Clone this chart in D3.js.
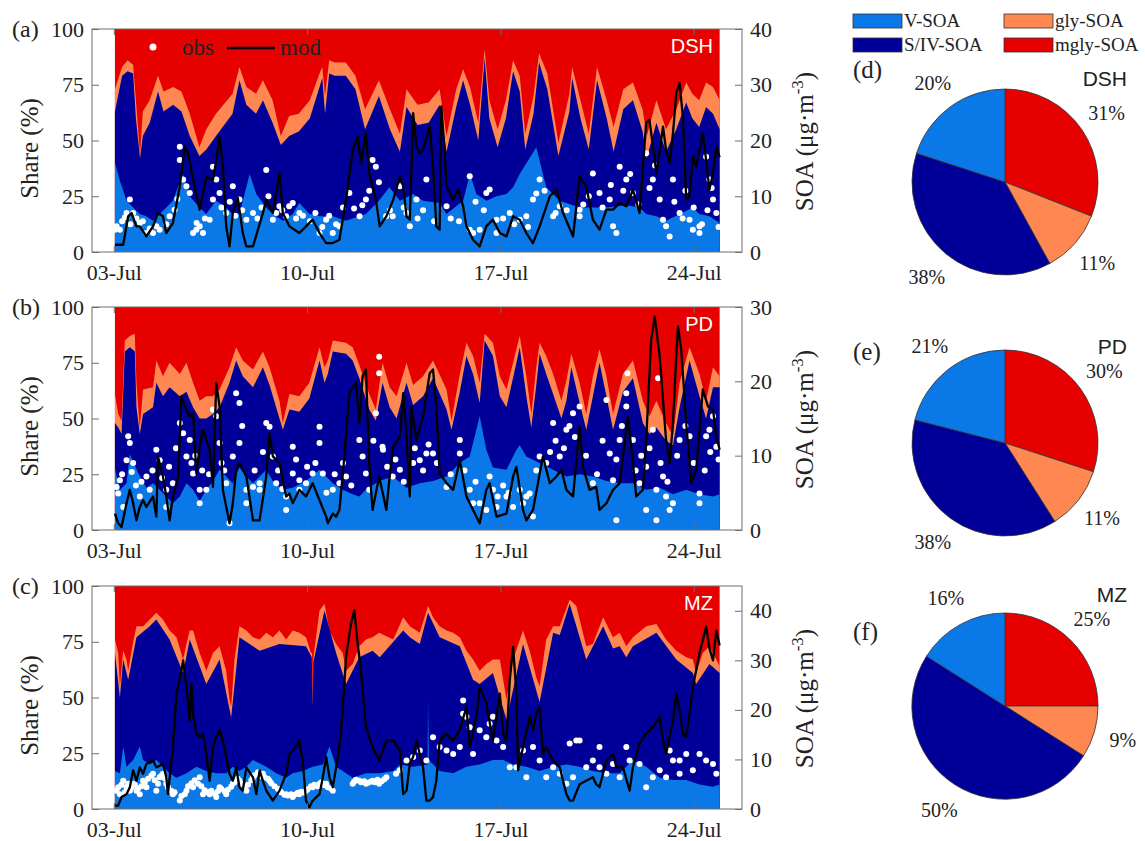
<!DOCTYPE html>
<html>
<head>
<meta charset="utf-8">
<script src="https://cdn.jsdelivr.net/npm/d3@7"></script>
<style>
  body { margin: 0; background: #fff; }
  text { font-family: "Liberation Serif", "Times New Roman", serif; fill: #222; }
</style>
</head>
<body>
<svg id="chart" width="1145" height="841"></svg>
<script>
// categories / colours
const layerNames = ["V-SOA", "S/IV-SOA", "gly-SOA", "mgly-SOA"];
const layerColors = ["#0a78e6", "#000099", "#ff8752", "#e60000"];
const stationNames = ["DSH", "PD", "MZ"];
const dateTicks = [3, 10, 17, 24];   // July days with a tick label

// time is in days after 03-Jul 00:00, shares are cumulative (%) from the bottom
// ---- DSH ----
const dshTopV = [[0.04,40],[0.22,32],[0.46,23],[0.7,20],[0.94,17],[1.18,16],[1.42,14],[1.66,17],[1.9,20],[2.14,23],[2.5,35],[2.75,25],[3.1,20],[3.35,17],[3.7,23],[4.07,20],[4.3,17],[4.55,17],[4.92,35],[5.16,26],[5.52,20],[5.76,17],[6.12,14],[6.48,17],[6.72,22],[7.08,17],[7.45,16],[7.93,16],[8.4,14],[8.9,16],[9.13,17],[9.6,23],[9.98,29],[10.36,23],[10.84,26],[11.2,23],[11.8,22],[12.05,17],[12.65,23],[12.9,35],[13.13,26],[13.5,23],[13.86,25],[14.22,26],[14.46,29],[14.7,35],[15.3,47],[15.66,29],[16.15,23],[16.87,20],[17.35,20],[17.84,20],[18.56,21],[19.04,20],[19.28,17],[19.65,16],[20.0,14],[20.5,17],[20.97,20],[21.2,17],[21.57,16],[21.94,13]];
const dshTopSIV = [[0.04,63],[0.3,79],[0.5,81],[0.7,80],[0.8,60],[0.95,42],[1.05,52],[1.3,58],[1.6,72],[1.8,63],[2.15,66],[2.45,63],[2.75,52],[3.1,43],[3.35,46],[3.7,52],[4.3,62],[4.55,77],[4.8,66],[5.15,62],[5.4,68],[5.75,58],[6.05,48],[6.35,52],[6.7,54],[7.1,60],[7.45,74],[7.55,78],[7.65,62],[7.8,80],[8.0,79],[8.4,79],[8.75,73],[9.1,55],[9.6,70],[10.0,55],[10.36,45],[10.6,65],[11.0,57],[11.4,58],[11.8,66],[12.05,45],[12.4,65],[12.65,77],[12.9,66],[13.2,50],[13.43,87],[13.6,60],[13.9,47],[14.2,60],[14.46,81],[14.7,72],[14.9,46],[15.2,62],[15.4,85],[15.7,73],[16.1,43],[16.5,63],[16.6,78],[16.9,60],[17.2,46],[17.5,77],[17.85,60],[18.1,45],[18.45,64],[18.8,68],[19.15,54],[19.3,42],[19.65,58],[20.0,45],[20.37,55],[20.73,67],[20.95,60],[21.2,56],[21.45,65],[21.7,62],[21.94,55]];
const dshTopGly = [[0.04,73],[0.3,83],[0.5,86],[0.7,84],[0.8,68],[0.95,44],[1.05,63],[1.3,68],[1.6,79],[1.8,72],[2.15,74],[2.45,72],[2.75,62],[3.1,47],[3.35,55],[3.7,62],[4.3,71],[4.55,83],[4.8,74],[5.15,71],[5.4,77],[5.75,68],[6.05,52],[6.35,61],[6.7,62],[7.1,68],[7.45,80],[7.55,83],[7.65,70],[7.8,86],[8.0,85],[8.4,85],[8.75,79],[9.1,64],[9.6,77],[10.0,64],[10.36,53],[10.6,73],[11.0,66],[11.4,67],[11.8,73],[12.05,52],[12.4,73],[12.65,82],[12.9,74],[13.2,58],[13.43,91],[13.6,68],[13.9,55],[14.2,68],[14.46,86],[14.7,79],[14.9,53],[15.2,70],[15.4,89],[15.7,80],[16.1,49],[16.5,71],[16.6,83],[16.9,68],[17.2,53],[17.5,83],[17.85,68],[18.1,56],[18.45,73],[18.8,76],[19.15,64],[19.3,52],[19.65,68],[20.0,55],[20.37,64],[20.73,76],[20.95,71],[21.2,68],[21.45,76],[21.7,74],[21.94,68]];
const dshMod = [[0.04,1.3],[0.34,1.3],[0.52,6.4],[0.64,7],[0.82,4.6],[0.94,4.6],[1.18,2.8],[1.42,4.6],[1.6,7],[1.78,6.4],[1.9,3.4],[2.14,5.2],[2.39,11.8],[2.57,18.9],[2.69,17.7],[2.87,13],[3.11,7.6],[3.35,13.5],[3.59,12.9],[3.71,16.5],[3.83,20.7],[3.95,15.3],[4.07,4.6],[4.19,1],[4.31,7],[4.49,9.7],[4.67,3.4],[4.8,1],[5.04,1],[5.4,7],[5.52,9.4],[5.64,8.2],[5.76,7],[6.0,14.1],[6.12,7],[6.36,4.6],[6.72,3.4],[6.96,4.6],[7.2,5.8],[7.45,3.4],[7.69,1.6],[7.93,1.6],[8.17,2.2],[8.41,9.4],[8.65,18.3],[8.83,20.7],[8.95,16],[9.13,21.3],[9.25,14.1],[9.49,9.4],[9.63,4.6],[9.87,6.4],[10.12,9.4],[10.36,13.5],[10.48,11.8],[10.6,6.4],[10.72,5.8],[10.84,24.9],[10.96,18.9],[11.08,17.7],[11.2,18.3],[11.44,22.5],[11.56,15.3],[11.68,4.6],[11.8,4],[11.86,26.1],[11.98,18.3],[12.05,11.8],[12.29,9.4],[12.47,11.2],[12.65,8.2],[12.77,4.6],[13.01,2.2],[13.25,1],[13.49,4.6],[13.73,5.8],[13.98,3.4],[14.22,2.8],[14.46,6.4],[14.7,5.8],[14.94,3.4],[15.18,1.6],[15.42,4.6],[15.79,10],[16.03,11.2],[16.27,7],[16.63,2.8],[16.87,13.5],[17.11,11.8],[17.35,5.8],[17.59,4],[17.84,7.6],[18.08,7.6],[18.32,8.8],[18.56,8.2],[18.8,11.2],[19.04,7],[19.28,23.2],[19.4,23.7],[19.65,14.1],[19.89,22.5],[20.0,18.3],[20.13,16],[20.25,21.3],[20.37,28.5],[20.49,30.3],[20.61,24.2],[20.73,9.4],[20.85,10],[20.97,17.2],[21.09,15.3],[21.33,21.3],[21.45,16.5],[21.57,11.2],[21.7,14.1],[21.82,18.9],[21.94,17]];
const dshObs = [[0.04,4],[0.1,4.6],[0.22,4],[0.3,5.5],[0.4,6.2],[0.46,7],[0.58,9.4],[0.6,5],[0.7,7],[0.82,6],[0.94,5.2],[1.05,5.5],[1.18,3.4],[1.3,4.2],[1.42,3.4],[1.54,4.6],[1.66,4],[1.9,5],[2.02,6.4],[2.2,7.6],[2.3,9.5],[2.39,18.9],[2.39,16.5],[2.51,13],[2.63,11.8],[2.75,10.6],[2.87,3.4],[2.99,4],[3.0,5.2],[3.11,4.6],[3.23,3.4],[3.3,6],[3.47,5.8],[3.59,15.3],[3.59,9.4],[3.71,13],[3.83,10.6],[3.9,8],[4.07,7],[4.2,9],[4.31,11.8],[4.4,6.5],[4.55,9.4],[4.65,7.5],[4.8,5.8],[5.04,7],[5.2,6],[5.35,8],[5.52,14.7],[5.6,10],[5.76,5.8],[5.88,7],[6.0,8.2],[6.1,7.5],[6.24,6.4],[6.35,8.2],[6.48,8.8],[6.6,6],[6.72,7],[6.85,6.5],[7.1,5.5],[7.3,7],[7.45,3.4],[7.55,4.5],[7.69,5.8],[7.8,6.5],[7.93,3.4],[8.05,5],[8.17,4.6],[8.3,8],[8.53,10.6],[8.7,7.8],[8.9,6.4],[9.0,8.4],[9.13,9.4],[9.25,11],[9.37,16.5],[9.49,15.3],[9.6,12.5],[9.86,6.4],[10.0,7.5],[10.1,6.4],[10.36,11.8],[10.5,8],[10.6,7],[10.72,4.6],[10.96,9.4],[11.0,6],[11.2,7.5],[11.32,13],[11.6,5.5],[12.05,8.2],[12.2,6],[12.5,5.5],[12.89,13.6],[12.89,4],[13.01,3.4],[13.1,9],[13.25,4],[13.4,7.5],[13.49,10.6],[13.61,11.2],[13.86,5.8],[13.86,3.4],[14.1,6],[14.34,7],[14.5,5],[14.7,5.8],[14.94,6.4],[15.0,4.5],[15.18,9.4],[15.3,10.5],[15.42,13],[15.6,11],[15.91,6.4],[16.0,7],[16.15,8.2],[16.4,7.5],[16.87,7.6],[16.87,6.4],[17.0,8.5],[17.2,10],[17.35,14.1],[17.59,10.6],[17.7,8],[17.96,9.4],[18.0,12],[18.08,4.6],[18.2,3.4],[18.32,15.3],[18.45,11],[18.56,13],[18.7,14],[18.8,10.6],[19.0,8.5],[19.28,17.7],[19.4,11.5],[19.52,13],[19.6,15.5],[19.77,9.4],[19.89,5.8],[20.0,4.6],[20.13,2.8],[20.25,13],[20.3,9],[20.49,7],[20.6,6],[20.7,11],[20.85,5.8],[20.97,4],[21.0,8],[21.21,4.6],[21.21,3.4],[21.3,5],[21.45,17.1],[21.5,7.5],[21.57,13],[21.65,11.5],[21.7,9.4],[21.82,7],[21.9,4.5]];

// ---- PD ----
const pdTopV = [[0.04,28],[0.1,24],[0.22,18],[0.46,21],[0.58,34],[0.94,24],[1.18,19],[1.42,21],[1.66,18],[1.9,15],[2.14,12],[2.39,15],[2.63,21],[2.87,18],[3.11,13],[3.35,18],[3.59,22],[3.83,27],[4.07,24],[4.31,21],[4.55,28],[4.8,24],[5.04,21],[5.28,24],[5.52,27],[5.76,22],[6.12,18],[6.48,19],[6.96,22],[7.45,27],[7.69,24],[7.93,21],[8.29,18],[8.65,16],[8.89,15],[9.13,18],[9.61,22],[10.1,24],[10.6,19],[11.08,21],[11.56,22],[12.05,24],[12.53,30],[12.89,33],[13.25,51],[13.49,36],[13.73,28],[14.22,27],[14.58,36],[14.7,38],[14.94,33],[15.42,30],[15.91,27],[16.39,24],[16.87,25],[17.35,24],[17.84,22],[18.32,21],[18.8,21],[19.28,18],[19.77,19],[20.25,16],[20.73,18],[21.21,16],[21.7,15],[21.94,16]];
const pdTopSIV = [[0.04,48],[0.16,46],[0.28,43],[0.4,80],[0.58,82],[0.76,80],[0.82,55],[0.94,43],[1.06,52],[1.42,55],[1.54,66],[1.78,60],[2.02,64],[2.39,60],[2.63,62],[2.87,55],[3.11,50],[3.35,50],[3.59,52],[3.83,55],[4.19,66],[4.43,76],[4.67,69],[5.04,64],[5.4,73],[5.64,65],[6.0,50],[6.12,45],[6.36,54],[6.72,53],[7.08,59],[7.45,76],[7.63,66],[7.75,70],[7.93,80],[8.41,79],[8.65,76],[8.89,68],[9.25,54],[9.49,49],[9.73,66],[9.99,55],[10.24,50],[10.6,66],[10.84,56],[11.2,60],[11.56,68],[12.05,54],[12.23,45],[12.53,62],[12.77,78],[13.01,70],[13.25,57],[13.43,85],[13.73,78],[13.98,60],[14.22,55],[14.58,75],[14.7,82],[14.94,60],[15.12,46],[15.3,65],[15.42,79],[15.66,70],[15.91,61],[16.21,50],[16.39,58],[16.57,73],[16.87,57],[17.11,45],[17.35,60],[17.59,75],[17.84,60],[18.08,45],[18.44,62],[18.8,68],[19.16,48],[19.4,43],[19.65,46],[20.0,40],[20.25,38],[20.49,55],[20.85,76],[21.21,60],[21.45,50],[21.7,64],[21.94,64]];
const pdTopGly = [[0.04,61],[0.16,52],[0.28,49],[0.4,85],[0.58,87],[0.76,88],[0.82,66],[0.94,46],[1.06,63],[1.42,64],[1.54,76],[1.78,69],[2.02,75],[2.39,70],[2.63,75],[2.87,66],[3.11,58],[3.35,60],[3.59,60],[3.83,63],[4.19,73],[4.43,82],[4.67,76],[5.04,72],[5.4,80],[5.64,73],[6.0,58],[6.12,48],[6.36,61],[6.72,60],[7.08,66],[7.45,82],[7.63,73],[7.75,76],[7.93,85],[8.41,84],[8.65,82],[8.89,74],[9.25,61],[9.49,54],[9.73,75],[9.99,64],[10.24,60],[10.6,75],[10.84,65],[11.2,69],[11.56,76],[12.05,63],[12.23,49],[12.53,70],[12.77,84],[13.01,78],[13.25,66],[13.43,88],[13.73,84],[13.98,69],[14.22,63],[14.58,81],[14.7,87],[14.94,69],[15.12,52],[15.3,73],[15.42,84],[15.66,78],[15.91,70],[16.21,58],[16.39,67],[16.57,79],[16.87,66],[17.11,52],[17.35,69],[17.59,81],[17.84,69],[18.08,52],[18.44,70],[18.8,76],[19.16,58],[19.4,51],[19.65,58],[20.0,48],[20.25,42],[20.49,66],[20.85,82],[21.21,70],[21.45,58],[21.7,73],[21.94,69]];
const pdMod = [[0.04,2.2],[0.16,0.9],[0.28,0.4],[0.46,3.6],[0.58,5.4],[0.7,3.6],[0.82,1.3],[0.94,3.1],[1.06,4],[1.18,3.1],[1.42,4.5],[1.54,1.8],[1.6,9.9],[1.78,7.2],[1.9,4.5],[2.02,1.3],[2.14,4.5],[2.33,7.2],[2.45,18],[2.63,16.2],[2.75,15.3],[2.87,15.7],[2.99,7.6],[3.11,11.2],[3.23,13.5],[3.35,12.1],[3.47,10.8],[3.59,5.8],[3.71,19.8],[3.83,16.6],[3.95,5.4],[4.19,0.9],[4.31,3.6],[4.43,8.1],[4.55,9],[4.8,7.2],[5.04,1.3],[5.28,1.3],[5.52,7.2],[5.64,13],[5.76,9.9],[6.0,9],[6.24,4.5],[6.36,4.9],[6.48,3.6],[6.72,5.4],[6.96,4.5],[7.2,6.3],[7.45,4],[7.69,1.8],[7.75,0.9],[7.93,2.2],[8.05,1.8],[8.17,2.7],[8.35,9.9],[8.53,18.4],[8.77,19.8],[8.89,14.4],[9.01,20.7],[9.13,21.6],[9.25,9],[9.37,2.7],[9.61,7.2],[9.87,2.7],[9.99,7.2],[10.12,11.2],[10.36,12.6],[10.48,18.4],[10.6,12.6],[10.72,4.5],[10.78,16.6],[10.96,12.1],[11.2,15.3],[11.44,21.1],[11.56,21.6],[11.68,16.6],[11.8,7.6],[12.05,6.3],[12.29,5.4],[12.53,9.4],[12.77,4.5],[13.01,2.7],[13.25,0.9],[13.49,5.4],[13.61,6.3],[13.86,1.8],[14.22,2.2],[14.46,7.2],[14.58,8.5],[14.82,2.7],[14.94,1.3],[15.18,2.7],[15.54,9.9],[15.79,6.3],[16.03,7.2],[16.21,8.1],[16.39,5.4],[16.63,4.5],[16.87,13.9],[16.99,8.5],[17.23,5.4],[17.47,5.8],[17.59,2.7],[17.84,3.6],[18.08,5.4],[18.32,6.3],[18.62,15.3],[18.8,9],[18.92,4.5],[19.16,5.4],[19.28,12.1],[19.46,25.6],[19.59,28.7],[19.77,23.3],[19.89,17.5],[20.0,12.1],[20.13,9],[20.25,14.4],[20.37,23.3],[20.43,27.4],[20.55,24.2],[20.73,14.4],[20.91,6.3],[21.09,8.1],[21.33,18.9],[21.52,16.6],[21.7,16.2],[21.82,12.6],[21.94,10.8]];
const pdObs = [[0.1,5.8],[0.16,4.9],[0.22,6.7],[0.3,7.5],[0.34,3.1],[0.46,9.4],[0.52,12.6],[0.58,11.7],[0.65,7.8],[0.7,9],[0.8,6],[0.94,4.5],[1.0,6.5],[1.18,7.2],[1.3,5.4],[1.4,8],[1.54,10.8],[1.66,9.4],[1.75,7],[1.9,5.4],[1.9,3.1],[2.0,8.5],[2.14,6.3],[2.25,11],[2.39,14.4],[2.51,13],[2.63,9.9],[2.75,12.1],[2.81,9],[2.87,7.6],[2.95,10],[3.11,5.4],[3.11,3.6],[3.2,8],[3.35,5.4],[3.45,7.5],[3.59,16.2],[3.71,15.3],[3.83,11.7],[3.9,9],[4.0,8],[4.07,6.3],[4.19,0.9],[4.31,9.9],[4.43,18.4],[4.55,17.1],[4.55,11.7],[4.65,14],[4.8,5.4],[4.8,3.6],[5.04,5.8],[5.1,8],[5.28,6.3],[5.28,5.4],[5.4,10.5],[5.52,14.4],[5.64,13.9],[5.76,9.9],[5.88,6.3],[5.95,8],[6.1,5.5],[6.24,4.5],[6.24,2.7],[6.48,11.2],[6.48,7.6],[6.6,9.5],[6.72,6.7],[6.72,5.4],[6.96,6.3],[7.0,8.5],[7.2,7.6],[7.3,9],[7.45,13.9],[7.45,11.7],[7.57,7.6],[7.7,5],[7.93,5.4],[8.0,7.5],[8.17,6.3],[8.3,9],[8.41,7.2],[8.6,6],[8.89,12.1],[9.01,9.9],[9.13,7.6],[9.25,5.4],[9.4,12],[9.49,15.7],[9.61,23.3],[9.61,21.1],[9.73,11.2],[9.75,10.8],[9.9,8.5],[10.1,7.2],[10.2,9.5],[10.36,8.1],[10.5,6.5],[10.84,9],[10.9,11],[11.08,9.4],[11.2,8],[11.32,10.3],[11.4,11.5],[11.56,10.3],[11.7,9],[12.05,5.8],[12.2,7.5],[12.53,12.1],[12.53,10.3],[12.7,8],[12.89,5.4],[13.01,3.6],[13.1,6.5],[13.25,3.6],[13.49,2.7],[13.61,7.2],[13.73,5.4],[13.86,3.1],[13.9,4.5],[14.1,6],[14.22,4.5],[14.3,5],[14.46,3.1],[14.7,5.4],[14.82,3.6],[14.94,4.5],[15.06,4.9],[15.18,1.8],[15.3,8],[15.42,9.9],[15.66,9],[15.8,10.5],[15.91,14.4],[16.0,12],[16.15,9.9],[16.3,11],[16.39,13.5],[16.5,14],[16.63,15.7],[16.7,12.5],[16.87,16.6],[17.1,10],[17.35,6.3],[17.5,7.5],[17.7,12],[17.84,17.5],[17.96,10.3],[18.08,6.7],[18.2,1.3],[18.2,9.5],[18.32,12.1],[18.4,14],[18.56,18.4],[18.56,16.6],[18.6,21.1],[18.8,12.1],[18.9,8],[19.04,6.3],[19.1,10],[19.28,8.5],[19.28,2.7],[19.4,11],[19.52,13.5],[19.65,5.4],[19.65,1.3],[19.71,20.4],[19.8,9],[19.89,7.2],[20.0,4.5],[20.05,6.5],[20.13,2.7],[20.25,3.6],[20.4,10],[20.49,12.1],[20.7,14],[20.85,12.6],[21.0,9],[21.21,4.9],[21.21,3.6],[21.4,8],[21.45,12.6],[21.57,13.5],[21.6,10.5],[21.7,15.3],[21.82,11.2],[21.9,9.5]];

// ---- MZ ----
const mzTopV = [[0.04,17],[0.22,16],[0.34,28],[0.46,19],[0.7,22],[0.94,28],[1.06,22],[1.3,20],[1.54,22],[1.78,19],[2.02,16],[2.27,14],[2.63,16],[2.99,19],[3.35,17],[3.71,16],[4.07,16],[4.31,19],[4.55,17],[4.8,19],[5.04,22],[5.52,19],[5.88,16],[6.24,14],[6.48,16],[6.84,17],[7.2,19],[7.57,20],[7.81,28],[8.05,19],[8.41,16],[8.65,14],[9.13,16],[9.63,16],[10.12,17],[10.36,20],[10.84,19],[11.36,20],[11.38,49],[11.41,22],[11.8,17],[12.29,16],[12.77,19],[13.25,20],[13.73,22],[14.1,22],[14.46,20],[14.94,19],[15.42,17],[15.91,19],[16.39,20],[16.87,19],[17.35,17],[17.84,16],[18.32,16],[18.8,22],[19.28,19],[19.77,14],[20.25,13],[20.73,13],[21.21,11],[21.7,10],[21.94,11]];
const mzTopSIV = [[0.04,70],[0.22,50],[0.34,67],[0.52,58],[0.82,77],[1.3,82],[1.54,85],[2.02,76],[2.51,61],[2.75,76],[3.35,56],[3.83,67],[4.25,41],[4.55,77],[5.28,71],[6.0,74],[6.96,73],[7.17,68],[7.2,46],[7.23,66],[7.63,89],[8.05,70],[8.41,56],[8.89,68],[9.37,71],[9.63,68],[10.48,80],[10.72,77],[11.08,74],[11.38,88],[11.8,77],[12.53,73],[13.01,58],[13.25,56],[13.73,61],[14.22,40],[14.82,74],[15.42,48],[15.91,79],[16.15,78],[16.51,92],[17.11,67],[17.72,82],[18.08,72],[18.32,73],[18.56,68],[18.8,73],[19.65,79],[20.37,67],[20.97,61],[21.09,56],[21.57,65],[21.94,61]];
const mzTopGly = [[0.04,76],[0.16,70],[0.22,55],[0.34,71],[0.46,67],[0.52,62],[0.7,75],[0.82,82],[1.06,82],[1.3,85],[1.54,88],[1.78,85],[2.02,80],[2.27,77],[2.51,67],[2.63,74],[2.75,80],[2.87,80],[3.11,70],[3.35,62],[3.59,70],[3.83,73],[4.07,62],[4.19,49],[4.25,46],[4.37,67],[4.55,82],[4.8,80],[5.04,77],[5.28,76],[5.52,79],[5.76,77],[6.0,80],[6.24,76],[6.48,80],[6.72,79],[6.96,77],[7.14,70],[7.18,70],[7.2,47],[7.23,68],[7.45,89],[7.63,92],[7.81,80],[8.05,74],[8.29,70],[8.41,62],[8.65,65],[8.89,73],[9.13,76],[9.37,77],[9.61,79],[10.12,76],[10.48,86],[10.72,82],[11.08,79],[11.38,91],[11.56,86],[11.8,82],[12.05,80],[12.29,79],[12.53,77],[12.77,71],[13.01,67],[13.25,62],[13.49,65],[13.73,67],[13.98,67],[14.22,49],[14.46,67],[14.82,80],[15.06,71],[15.3,59],[15.42,55],[15.66,76],[15.91,82],[16.15,82],[16.51,94],[16.75,91],[17.11,73],[17.35,74],[17.72,86],[18.08,77],[18.32,79],[18.56,73],[18.8,77],[19.28,82],[19.65,83],[20.0,76],[20.37,71],[20.73,68],[20.97,67],[21.09,61],[21.33,70],[21.57,73],[21.82,67],[21.94,64]];
const mzMod = [[0.04,0.7],[0.16,0.7],[0.28,2.4],[0.46,3],[0.58,4.4],[0.7,7.8],[0.82,5.7],[0.94,8.4],[1.06,7.1],[1.18,9.1],[1.42,9.8],[1.54,8.4],[1.78,9.1],[1.9,6.4],[1.96,3],[2.14,12.5],[2.27,23.3],[2.45,28],[2.51,30],[2.63,24.6],[2.75,17.9],[2.81,25.3],[2.87,19.2],[2.99,15.2],[3.11,14.5],[3.23,15.2],[3.35,11.1],[3.47,5.7],[3.59,12.5],[3.71,14.5],[3.83,15.9],[3.95,13.8],[4.07,10.5],[4.19,7.1],[4.31,5.7],[4.43,8.4],[4.55,4.4],[4.67,3.7],[4.8,8.4],[5.04,6.4],[5.16,3],[5.28,7.8],[5.4,5.7],[5.52,3.7],[5.76,1.7],[6.0,3.7],[6.24,7.1],[6.36,11.1],[6.6,12.5],[6.72,13.8],[6.84,9.8],[6.96,1.7],[7.08,0.3],[7.2,1.7],[7.45,3],[7.57,6.4],[7.69,10.5],[7.81,6.4],[7.93,4.4],[8.05,8.4],[8.17,12.5],[8.29,19.9],[8.41,30.7],[8.59,37.4],[8.71,40.1],[8.83,33.4],[8.95,28],[9.13,16.5],[9.37,12.5],[9.61,9.8],[9.87,13.8],[10.12,13.8],[10.36,11.8],[10.48,3],[10.6,3.7],[10.72,9.1],[10.84,10.5],[10.96,13.8],[11.08,11.1],[11.2,8.4],[11.32,1.7],[11.44,1.7],[11.56,2.4],[11.68,5.7],[11.8,13.8],[12.05,15.2],[12.29,13.8],[12.53,15.9],[12.77,20.6],[12.89,12.5],[13.13,18.6],[13.25,24.6],[13.49,21.3],[13.73,13.8],[13.98,23.3],[14.1,15.2],[14.22,13.8],[14.34,26],[14.46,32.7],[14.58,23.3],[14.64,7.8],[14.82,12.5],[15.06,18.6],[15.18,15.9],[15.3,19.2],[15.42,20.6],[15.54,11.1],[15.66,12.5],[15.91,9.8],[16.15,8.4],[16.39,3],[16.51,1.7],[16.63,1.7],[16.87,5],[17.11,5.7],[17.35,6.4],[17.47,5],[17.59,4.4],[17.84,9.8],[18.08,11.1],[18.2,8.4],[18.44,8.4],[18.68,3.7],[18.8,8.4],[19.04,13.2],[19.28,15.2],[19.52,16.5],[19.77,18.6],[19.89,13.8],[20.0,11.1],[20.25,17.8],[20.37,23.3],[20.49,19.9],[20.61,15.2],[20.73,14.5],[20.85,19.2],[20.97,24.6],[21.09,28],[21.21,31.4],[21.33,34.1],[21.45,36.8],[21.57,32.4],[21.7,30],[21.82,36],[21.94,33]];
const mzObs = [[0.1,3.7],[0.16,4.4],[0.22,3],[0.28,4.9],[0.34,5.7],[0.4,3.4],[0.46,4.4],[0.52,5.1],[0.58,3.7],[0.64,4.4],[0.7,5.1],[0.76,4.9],[0.82,3.7],[0.88,4.2],[0.94,3],[1.0,4.6],[1.06,5.7],[1.12,5.3],[1.18,4.4],[1.24,6.1],[1.36,6.7],[1.42,7.1],[1.48,5.8],[1.54,3.7],[1.6,5.1],[1.66,6.4],[1.72,6.7],[1.78,7.1],[1.84,6.2],[1.9,5.1],[1.96,4.4],[2.08,3.7],[2.14,3],[2.2,3.4],[2.39,1.7],[2.45,2.6],[2.57,3],[2.63,3.7],[2.69,4.6],[2.81,5.2],[2.87,4.4],[2.93,5.8],[3.05,5.1],[3.11,6.4],[3.17,4.6],[3.23,3],[3.29,3.8],[3.41,3.4],[3.47,3],[3.53,3.7],[3.65,3.1],[3.71,2.4],[3.77,3.6],[3.83,4.4],[3.89,4.1],[4.01,3.6],[4.07,3],[4.13,3.9],[4.25,4.5],[4.31,5.1],[4.37,5.4],[4.49,6.1],[4.55,5.7],[4.61,5.1],[4.73,4.4],[4.8,3.7],[4.86,4.9],[4.98,5.8],[5.04,6.4],[5.1,6.8],[5.22,7.4],[5.34,6.6],[5.4,7.1],[5.46,6.4],[5.58,6.1],[5.64,5.7],[5.7,5.2],[5.82,4.6],[5.94,4.1],[6.0,3.7],[6.06,3.4],[6.18,2.9],[6.24,3],[6.3,2.7],[6.42,3],[6.48,2.4],[6.54,2.9],[6.66,3.3],[6.72,3],[6.78,3.5],[6.9,3.3],[6.96,3.7],[7.02,4],[7.14,4.6],[7.2,4.4],[7.26,4.9],[7.38,4.6],[7.45,5.1],[7.52,5.4],[7.63,4.8],[7.69,5.1],[7.75,4.4],[7.87,4.1],[7.93,3.7],[8.65,5.1],[8.7,5.5],[8.77,5.9],[8.89,5.7],[8.95,5.4],[9.07,5.6],[9.13,5.1],[9.2,5.3],[9.3,5.5],[9.37,5.7],[9.45,5.4],[9.55,5.9],[9.61,5.1],[9.7,5.6],[9.8,6],[9.87,6.4],[10.22,7.1],[10.36,7.8],[10.6,9.8],[10.84,10.5],[11.08,11.8],[11.32,9.8],[11.56,14.5],[11.8,12.5],[12.05,11.8],[12.29,11.1],[12.53,12.5],[12.65,21.9],[12.65,19.2],[12.77,18.6],[12.89,16.5],[13.01,11.1],[13.25,15.9],[13.49,14.5],[13.61,17.2],[13.73,18.6],[13.86,13.8],[14.1,12.5],[14.34,8.4],[14.58,8.4],[14.82,11.8],[14.94,6.4],[15.18,12.5],[15.42,9.8],[15.66,6.4],[15.91,8.4],[16.15,7.1],[16.39,5.1],[16.51,13.2],[16.63,6.4],[16.75,13.8],[16.87,13.8],[17.11,8.4],[17.35,9.8],[17.59,12.5],[17.59,8.4],[17.84,7.1],[18.08,9.1],[18.32,6.4],[18.56,12.5],[18.68,9.8],[19.04,9.1],[19.28,4.4],[19.52,6.4],[19.77,7.8],[20.0,6.4],[20.13,11.8],[20.25,9.8],[20.49,9.8],[20.49,7.1],[20.73,11.1],[20.97,7.8],[21.21,11.1],[21.45,9.8],[21.7,9.1],[21.82,7.1]];

// pie shares in order V, S/IV, gly, mgly
const dshPie = [20, 38, 11, 31];
const pdPie = [21, 38, 11, 30];
const mzPie = [16, 50, 9, 25];

const panels = [
  { tag: "(a)", name: stationNames[0], top: 29, v: dshTopV, siv: dshTopSIV, gly: dshTopGly, mod: dshMod, obs: dshObs, soaMax: 40, soaTicks: [0, 10, 20, 30, 40], pie: dshPie, pieTag: "(d)" },
  { tag: "(b)", name: stationNames[1], top: 307, v: pdTopV, siv: pdTopSIV, gly: pdTopGly, mod: pdMod, obs: pdObs, soaMax: 30, soaTicks: [0, 10, 20, 30], pie: pdPie, pieTag: "(e)" },
  { tag: "(c)", name: stationNames[2], top: 586, v: mzTopV, siv: mzTopSIV, gly: mzTopGly, mod: mzMod, obs: mzObs, soaMax: 45, soaTicks: [0, 10, 20, 30, 40], pie: mzPie, pieTag: "(f)" }
];

const svg = d3.select("#chart");
const plotH = 223, left = 92, right = 742;
const day0 = new Date(2019, 6, 3);
const toDate = d => new Date(day0.getTime() + d * 864e5);
const x = d3.scaleTime().domain([toDate(-0.79), toDate(22.75)]).range([left, right]);
const fmt = d3.timeFormat("%d-%b");
const tickDates = dateTicks.map(d => new Date(2019, 6, d));

panels.forEach((p, k) => {
  const top = p.top, bottom = top + plotH;
  const y = d3.scaleLinear().domain([0, 100]).range([bottom, top]);
  const y2 = d3.scaleLinear().domain([0, p.soaMax]).range([bottom, top]);
  const g = svg.append("g");

  const t0 = p.gly[0][0], t1 = p.gly[p.gly.length - 1][0];
  // mgly fills the rest up to 100 %
  g.append("rect")
    .attr("x", x(toDate(t0))).attr("width", x(toDate(t1)) - x(toDate(t0)))
    .attr("y", y(100)).attr("height", y(0) - y(100))
    .attr("fill", layerColors[3]);

  const area = d3.area()
    .x(d => x(toDate(d[0])))
    .y0(y(0))
    .y1(d => y(d[1]));
  [[p.gly, 2], [p.siv, 1], [p.v, 0]].forEach(([s, i]) => {
    g.append("path").attr("d", area(s)).attr("fill", layerColors[i]);
  });

  // observations
  g.selectAll("circle.obs").data(p.obs).enter().append("circle")
    .attr("class", "obs")
    .attr("cx", d => x(toDate(d[0])))
    .attr("cy", d => y2(d[1]))
    .attr("r", 3)
    .attr("fill", "#fff");

  // model line
  const line = d3.line().x(d => x(toDate(d[0]))).y(d => y2(d[1]));
  g.append("path").attr("d", line(p.mod))
    .attr("fill", "none").attr("stroke", "#000").attr("stroke-width", 2.3)
    .attr("stroke-linejoin", "round");

  // station label
  g.append("text").attr("x", 713).attr("y", top + 24)
    .attr("text-anchor", "end")
    .style("font-family", "Liberation Sans, Arial, sans-serif")
    .style("font-size", "20px").style("fill", "#fff")
    .text(p.name);

  // box + axes (ticks inside)
  g.append("rect").attr("x", left).attr("y", top).attr("width", right - left).attr("height", plotH)
    .attr("fill", "none").attr("stroke", "#6e6e6e").attr("stroke-width", 1);

  const styleAxis = sel => {
    sel.select(".domain").remove();
    sel.selectAll("line").attr("stroke", "#6e6e6e");
    sel.selectAll("text").style("font-size", "22px").style("font-family", "Liberation Serif, serif").attr("fill", "#222");
  };
  svg.append("g").attr("transform", `translate(${left},0)`)
    .call(d3.axisLeft(y).tickValues([0, 25, 50, 75, 100]).tickSize(-7).tickPadding(8))
    .call(styleAxis);
  svg.append("g").attr("transform", `translate(${right},0)`)
    .call(d3.axisRight(y2).tickValues(p.soaTicks).tickSize(-7).tickPadding(8))
    .call(styleAxis);
  svg.append("g").attr("transform", `translate(0,${bottom})`)
    .call(d3.axisBottom(x).tickValues(tickDates).tickFormat(fmt).tickSize(-6).tickPadding(12))
    .call(styleAxis);
  svg.append("g").attr("transform", `translate(0,${top})`)
    .call(d3.axisTop(x).tickValues(tickDates).tickFormat("").tickSize(-6))
    .call(styleAxis);

  // titles
  svg.append("text").attr("x", 12).attr("y", top + 8).style("font-size", "24px").text(p.tag);
  svg.append("text").attr("transform", `translate(38,${top + plotH / 2 + 8}) rotate(-90)`)
    .attr("text-anchor", "middle").style("font-size", "25px").text("Share (%)");
  const yl = svg.append("text").attr("transform", `translate(813,${top + plotH / 2 + 1}) rotate(-90)`)
    .attr("text-anchor", "middle").style("font-size", "25px");
  yl.append("tspan").text("SOA (μg·m");
  yl.append("tspan").attr("dy", -10).style("font-size", "17px").text("-3");
  yl.append("tspan").attr("dy", 10).text(")");

  // pie chart
  const cx = 1005, cy = [182, 443, 706][k], r = 93;
  const order = [3, 2, 1, 0];   // mgly first, clockwise from 12 o'clock
  const pie = d3.pie().sort(null).value(i => p.pie[i]);
  const arcs = pie(order);
  const arc = d3.arc().innerRadius(0).outerRadius(r);
  const lab = d3.arc().innerRadius(r * 1.32).outerRadius(r * 1.32);
  const pg = svg.append("g").attr("transform", `translate(${cx},${cy})`);
  pg.selectAll("path").data(arcs).enter().append("path")
    .attr("d", arc).attr("fill", d => layerColors[d.data])
    .attr("stroke", "#333").attr("stroke-width", 0.8);
  pg.selectAll("text.pct").data(arcs).enter().append("text")
    .attr("class", "pct")
    .attr("transform", d => `translate(${lab.centroid(d)})`)
    .attr("text-anchor", "middle").attr("dy", "0.35em")
    .style("font-size", "20px")
    .text(d => p.pie[d.data] + "%");
  svg.append("text").attr("x", 1127).attr("y", cy + [-96, -89, -104][k])
    .attr("text-anchor", "end")
    .style("font-family", "Liberation Sans, Arial, sans-serif").style("font-size", "21px")
    .text(p.name);
  svg.append("text").attr("x", 853).attr("y", cy + [-104, -83, -66][k])
    .style("font-size", "25px").text(p.pieTag);
});

// legend for obs / mod in panel (a)
const lg = svg.append("g");
lg.append("circle").attr("cx", 153).attr("cy", 47).attr("r", 3.5).attr("fill", "#fff");
lg.append("text").attr("x", 182).attr("y", 55).style("font-size", "23px").text("obs");
lg.append("line").attr("x1", 227).attr("x2", 275).attr("y1", 48).attr("y2", 48)
  .attr("stroke", "#000").attr("stroke-width", 2.3);
lg.append("text").attr("x", 280).attr("y", 55).style("font-size", "23px").text("mod");

// legend for the four SOA classes
const legPos = [[853, 14], [853, 38], [1004, 14], [1004, 38]];
layerNames.forEach((n, i) => {
  const [lx, ly] = legPos[i];
  svg.append("rect").attr("x", lx).attr("y", ly).attr("width", 49).attr("height", 14)
    .attr("fill", layerColors[i]).attr("stroke", "#333").attr("stroke-width", 0.8);
  svg.append("text").attr("x", lx + 51).attr("y", ly + 13).style("font-size", "19px").text(n);
});
</script>
</body>
</html>
